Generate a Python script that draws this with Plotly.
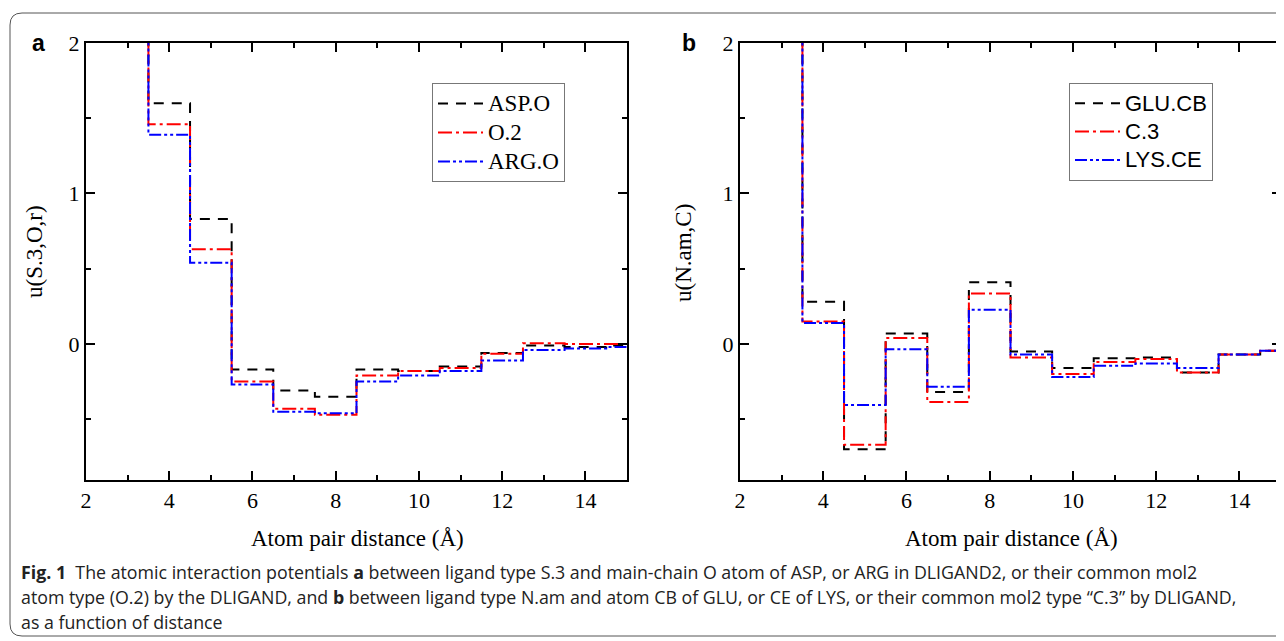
import plotly.graph_objects as go

# ---------------- data ----------------
bin_edges = [3.5, 4.5, 5.5, 6.5, 7.5, 8.5, 9.5, 10.5, 11.5, 12.5, 13.5, 14.5, 15.0]
wall = 3.0  # steep repulsive wall below 3.5 Å (clipped by axis)

# panel a: u(S.3, O, r)
asp_o = [1.60, 0.83, -0.17, -0.31, -0.35, -0.17, -0.18, -0.15, -0.06, -0.01, -0.02, -0.01]
o_2 = [1.46, 0.63, -0.25, -0.43, -0.47, -0.21, -0.18, -0.16, -0.065, 0.005, 0.0, 0.0]
arg_o = [1.39, 0.54, -0.27, -0.45, -0.46, -0.25, -0.21, -0.18, -0.11, -0.04, -0.03, -0.02]

# panel b: u(N.am, C)
glu_cb = [0.28, -0.70, 0.07, -0.32, 0.41, -0.05, -0.16, -0.095, -0.09, -0.19, -0.07, -0.045]
c_3 = [0.15, -0.67, 0.04, -0.385, 0.335, -0.09, -0.20, -0.12, -0.10, -0.19, -0.07, -0.045]
lys_ce = [0.14, -0.405, -0.035, -0.285, 0.227, -0.07, -0.22, -0.145, -0.13, -0.16, -0.07, -0.045]

names_a = ["ASP.O", "O.2", "ARG.O"]
names_b = ["GLU.CB", "C.3", "LYS.CE"]
x_ticks = [2, 4, 6, 8, 10, 12, 14]
y_ticks = [0, 1, 2]

caption_lines = [
    "<b>Fig. 1</b>  The atomic interaction potentials <b>a</b> between ligand type S.3 and main-chain O atom of ASP, or ARG in DLIGAND2, or their common mol2",
    "atom type (O.2) by the DLIGAND, and <b>b</b> between ligand type N.am and atom CB of GLU, or CE of LYS, or their common mol2 type \u201cC.3\u201d by DLIGAND,",
    "as a function of distance",
]

# ---------------- styling ----------------
OFF = 8  # page body margin offset
W, H = 1284 - OFF, 641 - OFF
colors = ["black", "red", "blue"]
dashes = ["10px,8px", "14px,4px,3px,4px", "12px,3px,3px,3px,3px,3px"]
SERIF = "Liberation Serif, Times New Roman, serif"
SANS = "Liberation Sans, Arial, sans-serif"


def px_x(p):
    return (p - OFF) / W


def px_y(p):
    return (H - (p - OFF)) / H


def big(name, size):
    return f'<span style="font-size:{size}px">{name}</span>'


fig = go.Figure()

x_line = [bin_edges[0]] + bin_edges
for i, (vals, nm) in enumerate(zip([asp_o, o_2, arg_o], names_a)):
    fig.add_trace(go.Scatter(
        x=x_line, y=[wall] + vals + [vals[-1]], mode="lines", name=big(nm, 23),
        line=dict(color=colors[i], width=2, dash=dashes[i], shape="hv"),
        xaxis="x", yaxis="y", legend="legend"))
for i, (vals, nm) in enumerate(zip([glu_cb, c_3, lys_ce], names_b)):
    fig.add_trace(go.Scatter(
        x=x_line, y=[wall] + vals + [vals[-1]], mode="lines", name=big(nm, 22),
        line=dict(color=colors[i], width=2, dash=dashes[i], shape="hv"),
        xaxis="x2", yaxis="y2", legend="legend2"))

y_dom = [px_y(480), px_y(43)]
axis_common = dict(showline=True, linecolor="black", linewidth=2, mirror="allticks",
                   ticks="inside", ticklen=9, tickwidth=2, tickcolor="black",
                   showgrid=False, zeroline=False, automargin=False,
                   tickfont=dict(family=SERIF, size=22, color="black"))
xcommon = dict(axis_common, range=[2, 15], tickvals=x_ticks,
               minor=dict(ticks="inside", ticklen=5, tickwidth=2, tickcolor="black", dtick=1, tick0=0, showgrid=False))
ycommon = dict(axis_common, range=[-0.904, 2.0], tickvals=y_ticks,
               minor=dict(ticks="inside", ticklen=5, tickwidth=2, tickcolor="black", dtick=0.5, tick0=0, showgrid=False))

legend_common = dict(xanchor="left", yanchor="top", bgcolor="white", bordercolor="#777777",
                     borderwidth=1, itemwidth=45, tracegroupgap=0)

fig.update_layout(
    width=W, height=H, autosize=False,
    margin=dict(l=0, r=0, t=0, b=0, autoexpand=False),
    paper_bgcolor="white", plot_bgcolor="white",
    xaxis=dict(xcommon, domain=[px_x(86), px_x(627)], anchor="y"),
    yaxis=dict(ycommon, domain=y_dom, anchor="x"),
    xaxis2=dict(xcommon, domain=[px_x(740), px_x(1281)], anchor="y2"),
    yaxis2=dict(ycommon, domain=y_dom, anchor="x2"),
    legend=dict(legend_common, x=px_x(432), y=px_y(83), font=dict(family=SERIF, size=20, color="black")),
    legend2=dict(legend_common, x=px_x(1069), y=px_y(83), font=dict(family=SANS, size=19.5, color="black")),
    showlegend=True,
)

ann = []


def add_text(text, xp, yp, size, family, xanchor="center", angle=0, color="black"):
    ann.append(dict(text=text, x=px_x(xp), y=px_y(yp), xref="paper", yref="paper",
                    xanchor=xanchor, yanchor="middle", textangle=angle, showarrow=False,
                    font=dict(family=family, size=size, color=color)))


# panel labels
add_text("<b>a</b>", 38, 43, 23, SANS)
add_text("<b>b</b>", 689, 43, 23, SANS)
# axis titles
add_text("Atom pair distance (\u00c5)", 357, 538, 23, SERIF)
add_text("Atom pair distance (\u00c5)", 1011, 538, 23, SERIF)
add_text("u(S.3,O,r)", 34, 252, 23, SERIF, angle=-90)
add_text("u(N.am,C)", 684, 253, 23, SERIF, angle=-90)
# caption
for k, line in enumerate(caption_lines):
    add_text(line, 19, 572 + 25 * k, 17.8, "Open Sans, Noto Sans, sans-serif", xanchor="left", color="#222222")
fig.update_layout(annotations=ann)

# rounded frame
x0, y0, r = px_x(10), px_y(13), 12
rx, ry = r / W, r / H
yb = px_y(636)
path = (f"M {x0},{yb + ry} L {x0},{y0 - ry} Q {x0},{y0} {x0 + rx},{y0} L 1.2,{y0} "
        f"M {x0},{yb + ry} Q {x0},{yb} {x0 + rx},{yb} L 1.2,{yb}")
fig.add_shape(type="path", path=path, xref="paper", yref="paper",
              line=dict(color="#555555", width=1))

fig.write_html("out.html")
